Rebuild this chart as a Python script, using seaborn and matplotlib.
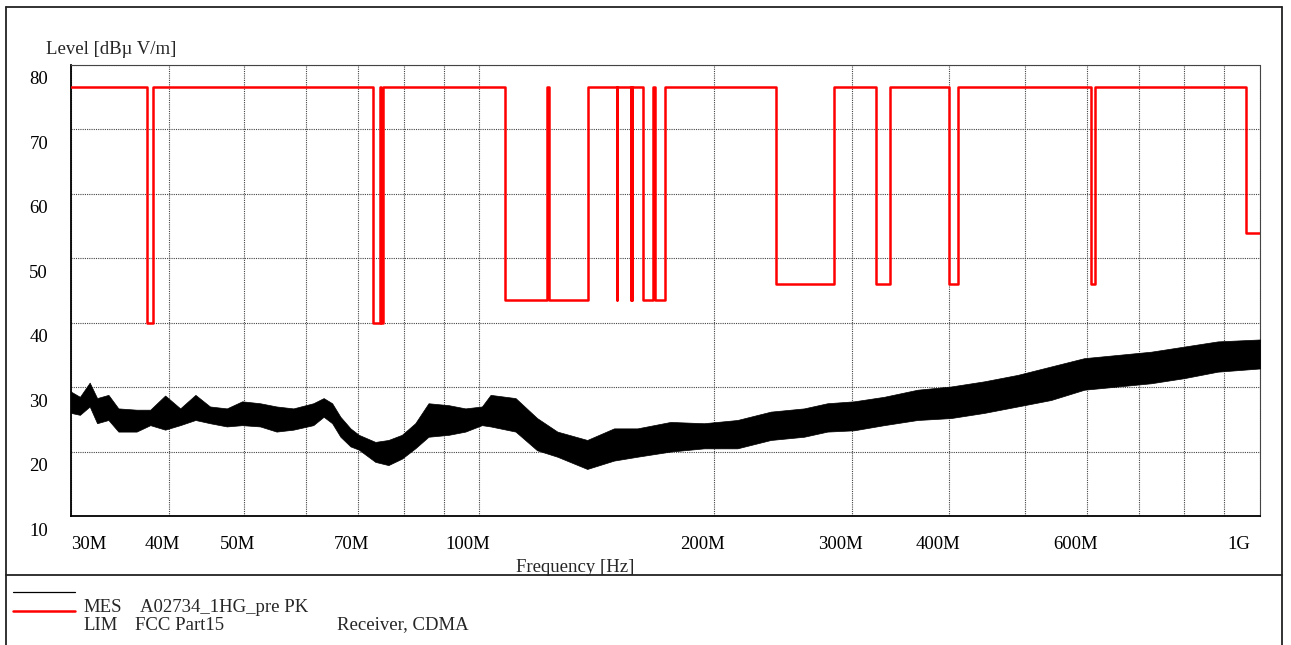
import numpy as np
import pandas as pd
import matplotlib
matplotlib.use("Agg")
import matplotlib.pyplot as plt
import matplotlib.transforms as mtrans
from matplotlib.lines import Line2D
from matplotlib.ticker import NullFormatter
import seaborn as sns

# ---------------- data ----------------
# measured trace envelope (MES A02734_1HG_pre PK)
meas_freq_mhz = [30.0, 30.8, 31.7, 32.4, 33.5, 34.5, 36.4, 37.9, 39.6, 41.4,
                 43.3, 45.2, 47.5, 49.7, 52.4, 55.0, 57.8, 61.3, 63.2, 64.8,
                 66.4, 68.4, 70.1, 73.6, 76.5, 79.6, 82.8, 86.1, 91.4, 96.0,
                 100.8, 103.4, 111.3, 118.6, 125.9, 137.5, 148.8, 159.4, 175.8, 194.0,
                 214.1, 236.3, 260.6, 279.2, 302.1, 330.0, 364.2, 401.9, 443.3, 489.3,
                 539.8, 595.6, 657.3, 725.1, 800.1, 882.8, 1000.0]
meas_upper_db = [29.3, 28.5, 30.7, 28.3, 28.8, 26.7, 26.5, 26.5, 28.7, 26.7,
                 28.8, 27.0, 26.7, 27.8, 27.5, 27.0, 26.7, 27.5, 28.3, 27.5,
                 25.4, 23.6, 22.6, 21.5, 21.8, 22.6, 24.4, 27.5, 27.2, 26.7,
                 27.0, 28.8, 28.3, 25.2, 23.1, 21.8, 23.6, 23.6, 24.6, 24.4,
                 24.9, 26.2, 26.7, 27.5, 27.8, 28.5, 29.6, 30.1, 30.9, 31.9,
                 33.2, 34.5, 35.0, 35.5, 36.3, 37.1, 37.4]
meas_lower_db = [26.0, 25.7, 27.0, 24.4, 24.9, 23.1, 23.1, 24.1, 23.4, 24.1,
                 24.9, 24.4, 23.9, 24.1, 23.9, 23.1, 23.4, 24.1, 25.4, 24.4,
                 22.3, 20.8, 20.3, 18.4, 17.9, 18.9, 20.5, 22.3, 22.6, 23.1,
                 24.1, 23.9, 23.1, 20.2, 19.2, 17.3, 18.6, 19.2, 20.0, 20.5,
                 20.5, 21.8, 22.3, 23.1, 23.3, 24.1, 24.9, 25.2, 26.0, 27.0,
                 28.0, 29.6, 30.1, 30.6, 31.4, 32.4, 32.9]

# limit line (LIM FCC Part15), step function starting at each frequency
limit_freq_mhz = [30, 37.5, 38.25, 73, 74.6, 74.8, 75.2, 108, 121.94, 123,
                  138, 149.9, 150.05, 156.52475, 156.52525, 156.7, 156.9, 162.0125, 167.17, 167.72,
                  173.2, 240, 285, 322, 335.4, 399.9, 410, 608, 614, 960, 1000]
limit_level_db = [76.6, 40, 76.6, 40, 76.6, 40, 76.6, 43.5, 76.6, 43.5,
                  76.6, 43.5, 76.6, 43.5, 76.6, 43.5, 76.6, 43.5, 76.6, 43.5,
                  76.6, 46, 76.6, 46, 76.6, 46, 76.6, 46, 76.6, 54, 54]

x_major_mhz = [30, 40, 50, 70, 100, 200, 300, 400, 600, 1000]
x_major_labels = ["30M", "40M", "50M", "70M", "100M", "200M", "300M", "400M", "600M", "1G"]
x_minor_mhz = [60, 80, 90, 500, 700, 800, 900]
y_ticks = [10, 20, 30, 40, 50, 60, 70, 80]

# ---------------- figure ----------------
sns.set_theme(style="white")
plt.rcParams["font.family"] = ["Liberation Serif", "DejaVu Serif"]

W, H = 1291, 645
fig = plt.figure(figsize=(W / 100, H / 100), dpi=100)
fig.patch.set_facecolor("white")
ax = fig.add_axes([71 / W, 1 - 516 / H, (1260 - 71) / W, (516 - 65) / H])
ax.set_facecolor("white")

meas = pd.DataFrame({"f": np.array(meas_freq_mhz) * 1e6,
                     "hi": meas_upper_db, "lo": meas_lower_db})
lim = pd.DataFrame({"f": np.array(limit_freq_mhz) * 1e6, "lim": limit_level_db})

# measurement trace drawn as its min/max band
ax.fill_between(meas["f"], meas["lo"], meas["hi"], facecolor="black",
                edgecolor="black", lw=0.5, zorder=3)

# limit line
sns.lineplot(data=lim, x="f", y="lim", ax=ax, color="#ff0000", lw=1.8,
             drawstyle="steps-post", estimator=None, sort=False, errorbar=None,
             zorder=4)

ax.set_xscale("log")
ax.set_xlim(30e6, 1000e6)
ax.set_ylim(10, 80)

ax.set_xticks([v * 1e6 for v in x_major_mhz])
ax.set_xticklabels(x_major_labels)
ax.set_xticks([v * 1e6 for v in x_minor_mhz], minor=True)
ax.xaxis.set_minor_formatter(NullFormatter())
ax.set_yticks(y_ticks)
ax.set_yticklabels([str(v) for v in y_ticks])

grid_kw = dict(color="#444444", lw=0.8, linestyle=(0, (1, 1)))
ax.grid(True, which="both", axis="x", **grid_kw)
ax.grid(True, which="major", axis="y", **grid_kw)

ax.tick_params(axis="both", which="both", length=0, labelsize=13.5, colors="black")
ax.tick_params(axis="x", pad=20.2)
ax.tick_params(axis="y", pad=16.5)

for side in ["left", "bottom"]:
    ax.spines[side].set_color("black")
    ax.spines[side].set_linewidth(1.3)
for side in ["top", "right"]:
    ax.spines[side].set_color("#444444")
    ax.spines[side].set_linewidth(0.8)
    ax.spines[side].set_linestyle((0, (1, 1)))

ax.set_xlabel("")
ax.set_ylabel("")

# tick label placement like the original software
px = 1 / 100.0
for i, lab in enumerate(ax.get_xticklabels()):
    lab.set_va("center")
    if i == 0:
        lab.set_ha("left")
        dx = 0
    elif i == len(x_major_labels) - 1:
        lab.set_ha("right")
        dx = -10
    else:
        lab.set_ha("right")
        dx = 11
    lab.set_transform(lab.get_transform() +
                      mtrans.ScaledTranslation(dx * px, 0, fig.dpi_scale_trans))
for lab in ax.get_yticklabels():
    lab.set_va("center")
    lab.set_transform(lab.get_transform() +
                      mtrans.ScaledTranslation(0, -15 * px, fig.dpi_scale_trans))

# axis titles
fig.text(46 / W, 1 - 49 / H, "Level [dBµ V/m]", fontsize=13.5, ha="left", va="center")
fig.text(575 / W, 1 - 567 / H, "Frequency [Hz]", fontsize=13.5, ha="center", va="center")

# frame and legend area
frame_kw = dict(color="#222222", lw=1.3, transform=fig.transFigure)
fig.add_artist(Line2D([6 / W, 6 / W], [0, 1 - 7 / H], **frame_kw))
fig.add_artist(Line2D([6 / W, 1282 / W], [1 - 7 / H, 1 - 7 / H], **frame_kw))
fig.add_artist(Line2D([1282 / W, 1282 / W], [0, 1 - 7 / H], **frame_kw))
fig.add_artist(Line2D([6 / W, 1282 / W], [1 - 575 / H, 1 - 575 / H], **frame_kw))

fig.add_artist(Line2D([13 / W, 75 / W], [1 - 592 / H, 1 - 592 / H], color="black",
                      lw=0.9, transform=fig.transFigure))
fig.add_artist(Line2D([13 / W, 75 / W], [1 - 611 / H, 1 - 611 / H], color="#ff0000",
                      lw=1.8, transform=fig.transFigure))
leg_fs = 13.5
fig.text(83 / W, 1 - 607 / H, "MES", fontsize=leg_fs, ha="left", va="center")
fig.text(140 / W, 1 - 607 / H, "A02734_1HG_pre PK", fontsize=leg_fs, ha="left", va="center")
fig.text(83 / W, 1 - 625 / H, "LIM", fontsize=leg_fs, ha="left", va="center")
fig.text(135 / W, 1 - 625 / H, "FCC Part15", fontsize=leg_fs, ha="left", va="center")
fig.text(337 / W, 1 - 625 / H, "Receiver, CDMA", fontsize=leg_fs, ha="left", va="center")

fig.savefig("out.png", dpi=100, facecolor="white")
